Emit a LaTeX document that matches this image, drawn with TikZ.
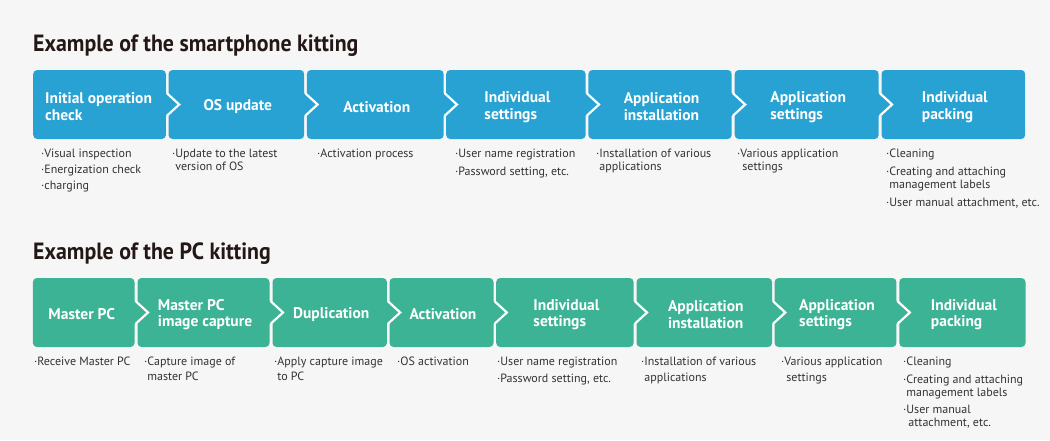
\documentclass[tikz,border=0pt]{standalone}
\usepackage{fontspec}
\setmainfont{PT Sans}
\newfontfamily\titlefont[FakeStretch=0.93]{PT Sans}
\usetikzlibrary{calc}
\definecolor{bgcol}{HTML}{F6F6F6}
\definecolor{sblue}{HTML}{27A2D3}
\definecolor{pgreen}{HTML}{3BB394}
\definecolor{titletext}{HTML}{231815}
\definecolor{desctext}{HTML}{333333}
\tikzset{
  boxbase/.style={rounded corners=4pt, inner sep=0pt, anchor=west,
    minimum height=69pt},
  sbox/.style={boxbase, fill=sblue},
  pbox/.style={boxbase, fill=pgreen},
  boxtxt/.style={inner sep=0pt, text=white, align=left,
    font=\bfseries\fontsize{15.5}{17}\selectfont},
  boxtxtp/.style={boxtxt, font=\bfseries\fontsize{15.5}{16.3}\selectfont},
  desc/.style={anchor=north west, inner sep=0pt, align=left,
    font=\fontsize{12}{13}\selectfont, text=desctext},
  titletxt/.style={anchor=base west, inner sep=0pt,
    font=\titlefont\bfseries\fontsize{23.5}{26}\selectfont, text=titletext},
}
\newcommand\chevjoin[3]{%
  \coordinate (#1g) at ($(#1.east)!0.5!(#2.west)$);
  \fill[#3] ([shift={(-2.5,-12)}]#1g) -- ([shift={(0,-10)}]#1g) -- ([shift={(12,0)}]#1g)
    -- ([shift={(0,10)}]#1g) -- ([shift={(-2.5,12)}]#1g) -- cycle;
  \draw[white, line width=2.2pt, line join=miter]
    ([shift={(0,-11)}]#1g) -- ([shift={(12,0)}]#1g) -- ([shift={(0,11)}]#1g);
}
\newcommand\ind{\hphantom{·}}
\begin{document}
\begin{tikzpicture}[x=1pt, y=-1pt]
\fill[bgcol] (0,0) rectangle (1050,440);

% ---------- smartphone ----------
\node[titletxt] (ttop) at (33,51) {Example of the smartphone kitting};

\node[sbox, minimum width=132.7pt] (s1) at (33,104.5)    {};
\node[sbox, minimum width=135.7pt] (s2) at (168.3,104.5) {};
\node[sbox, minimum width=136.8pt] (s3) at (306.7,104.5) {};
\node[sbox, minimum width=139.4pt] (s4) at (446,104.5)   {};
\node[sbox, minimum width=143.3pt] (s5) at (588.2,104.5) {};
\node[sbox, minimum width=144pt]   (s6) at (734.5,104.5) {};
\node[sbox, minimum width=143.7pt] (s7) at (881.3,104.5) {};

\chevjoin{s1}{s2}{sblue}
\chevjoin{s2}{s3}{sblue}
\chevjoin{s3}{s4}{sblue}
\chevjoin{s4}{s5}{sblue}
\chevjoin{s5}{s6}{sblue}
\chevjoin{s6}{s7}{sblue}

\node[boxtxt] (s1t) at ([shift={(-1,2.5)}]s1.center)  {Initial operation\\check};
\node[boxtxt] (s2t) at ([shift={(1.5,2.5)}]s2.center) {OS update};
\node[boxtxt] (s3t) at ([shift={(1.5,2.5)}]s3.center) {Activation};
\node[boxtxt] (s4t) at ([shift={(1.5,2.5)}]s4.center) {Individual\\settings};
\node[boxtxt] (s5t) at ([shift={(1.5,2.5)}]s5.center) {Application\\installation};
\node[boxtxt] (s6t) at ([shift={(1.5,2.5)}]s6.center) {Application\\settings};
\node[boxtxt] (s7t) at ([shift={(1.5,2.5)}]s7.center) {Individual\\packing};

\node[desc] (ds1) at (41,149)  {·Visual inspection\\[3pt]·Energization check\\[3pt]·charging};
\node[desc] (ds2) at (172,149) {·Update to the latest\\\ind version of OS};
\node[desc] (ds3) at (317,149) {·Activation process};
\node[desc] (ds4) at (455,149) {·User name registration\\[5pt]·Password setting, etc.};
\node[desc] (ds5) at (596,149) {·Installation of various\\\ind applications};
\node[desc] (ds6) at (737,149) {·Various application\\\ind\,settings};
\node[desc] (ds7) at (886,149) {·Cleaning\\[5pt]·Creating and attaching\\\ind management labels\\[5pt]·User manual attachment, etc.};

% ---------- PC ----------
\node[titletxt] (tbot) at (33,259) {Example of the PC kitting};

\node[pbox, minimum width=101.6pt] (p1) at (32.7,312.5)  {};
\node[pbox, minimum width=132pt]   (p2) at (137.3,312.5) {};
\node[pbox, minimum width=114.4pt] (p3) at (272.3,312.5) {};
\node[pbox, minimum width=104pt]   (p4) at (389.3,312.5) {};
\node[pbox, minimum width=137.4pt] (p5) at (496,312.5)   {};
\node[pbox, minimum width=135.6pt] (p6) at (636.3,312.5) {};
\node[pbox, minimum width=121.8pt] (p7) at (774.4,312.5) {};
\node[pbox, minimum width=126.2pt] (p8) at (899.1,312.5) {};

\chevjoin{p1}{p2}{pgreen}
\chevjoin{p2}{p3}{pgreen}
\chevjoin{p3}{p4}{pgreen}
\chevjoin{p4}{p5}{pgreen}
\chevjoin{p5}{p6}{pgreen}
\chevjoin{p6}{p7}{pgreen}
\chevjoin{p7}{p8}{pgreen}

\node[boxtxtp] (p1t) at ([shift={(-2,2)}]p1.center)  {Master PC};
\node[boxtxtp] (p2t) at ([shift={(1.5,2)}]p2.center) {Master PC\\image capture};
\node[boxtxtp] (p3t) at ([shift={(1.5,2)}]p3.center) {Duplication};
\node[boxtxtp] (p4t) at ([shift={(1.5,2)}]p4.center) {Activation};
\node[boxtxtp] (p5t) at ([shift={(1.5,2)}]p5.center) {Individual\\settings};
\node[boxtxtp] (p6t) at ([shift={(1.5,2)}]p6.center) {Application\\installation};
\node[boxtxtp] (p7t) at ([shift={(1.5,2)}]p7.center) {Application\\settings};
\node[boxtxtp] (p8t) at ([shift={(1.5,2)}]p8.center) {Individual\\packing};

\node[desc] (dp1) at (34,357)  {·Receive Master PC};
\node[desc] (dp2) at (144,357) {·Capture image of\\[1.5pt]\ind master PC};
\node[desc] (dp3) at (274,357) {·Apply capture image\\[1.5pt]\ind to PC};
\node[desc] (dp4) at (397,357) {·OS activation};
\node[desc] (dp5) at (497,357) {·User name registration\\[4pt]·Password setting, etc.};
\node[desc] (dp6) at (641,357) {·Installation of various\\[3pt]\ind applications};
\node[desc] (dp7) at (781,357) {·Various application\\[3pt]\ind\,settings};
\node[desc] (dp8) at (903,357) {·Cleaning\\[4.5pt]·Creating and attaching\\\ind management labels\\[4.5pt]·User manual\\\ind\,attachment, etc.};
\end{tikzpicture}
\end{document}
